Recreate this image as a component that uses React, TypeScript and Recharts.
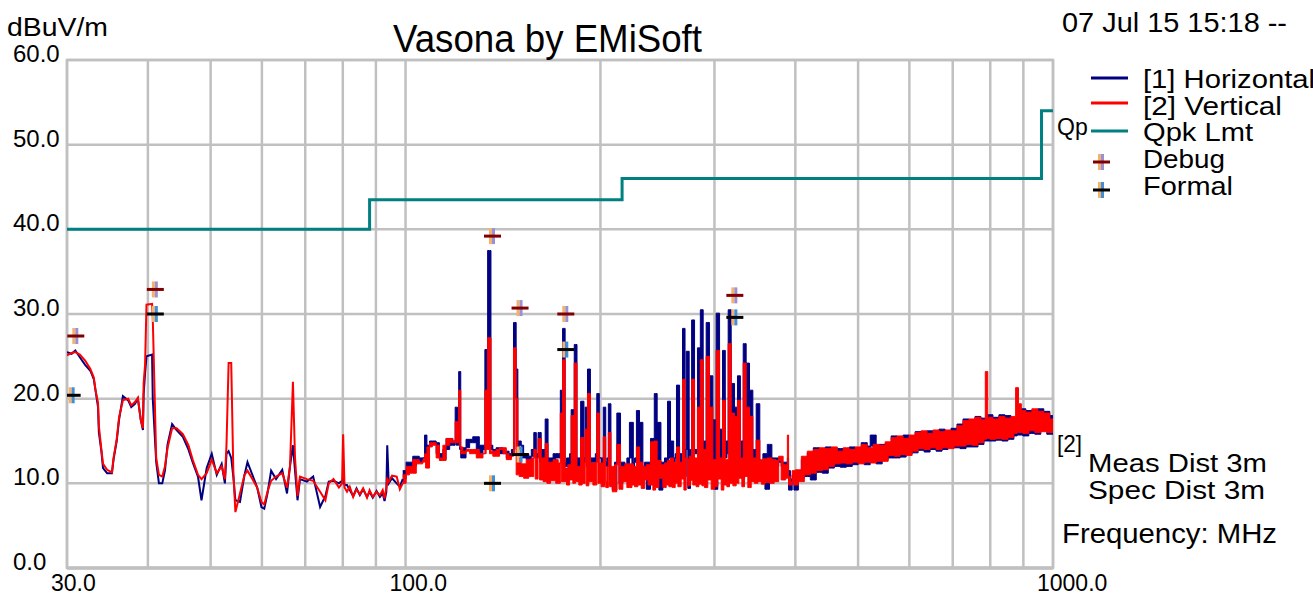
import React from 'react';
import { ComposedChart, Line, Area, Scatter, XAxis, YAxis, CartesianGrid, ReferenceArea } from 'recharts';

// 30 - 100 MHz
const lowFreq = [
  30.0, 30.5, 30.9, 31.4, 32.0, 32.6, 33.0, 33.2, 33.5, 33.6,
  33.9, 34.1, 34.6, 35.2, 35.4, 35.8, 36.1, 36.6, 37.3, 37.7,
  38.2, 38.6, 39.0, 39.3, 39.4, 39.6, 39.8, 40.6, 40.7, 41.2,
  41.6, 42.1, 42.5, 42.9, 43.6, 44.3, 45.3, 46.2, 46.9, 47.8,
  48.4, 49.3, 50.2, 51.1, 52.0, 52.6, 52.9, 53.3, 53.8, 54.2,
  54.6, 55.5, 56.4, 57.0, 58.0, 59.0, 59.9, 60.5, 61.2, 62.0,
  63.1, 64.5, 65.6, 66.3, 67.0, 67.5, 68.1, 68.7, 70.4, 72.0,
  73.8, 75.2, 76.1, 77.4, 78.9, 79.8, 80.1, 80.5, 81.2, 82.0,
  83.0, 84.0, 85.0, 86.0, 87.2, 88.0, 89.0, 90.2, 91.3, 92.2,
  92.8, 93.4, 93.7, 94.2, 95.3, 96.9, 98.0,
];
const lowHoriz = [
  25.5, 25.3, 25.7, 24.9, 24.0, 23.3, 22.3, 21.0, 19.0, 16.0,
  13.8, 11.8, 11.2, 11.2, 12.8, 15.0, 17.5, 20.3, 19.8, 19.0,
  19.4, 20.0, 17.5, 16.3, 20.5, 23.0, 25.0, 25.2, 20.0, 12.5,
  10.0, 10.0, 11.5, 14.6, 17.0, 16.3, 15.5, 14.0, 12.5, 10.8,
  8.0, 11.8, 13.5, 11.0, 12.3, 10.0, 13.5, 13.8, 13.0, 10.8,
  8.0, 7.8, 11.0, 12.5, 11.0, 9.5, 7.2, 7.0, 8.8, 11.5,
  10.5, 11.6, 8.8, 12.0, 14.5, 11.5, 8.0, 10.5, 10.2, 10.8,
  7.2, 8.5, 10.2, 10.3, 10.0, 10.3, 10.5, 9.8, 9.8, 9.2,
  8.5, 9.4, 8.6, 9.3, 8.4, 9.0, 8.3, 9.1, 8.4, 8.8,
  7.9, 9.0, 14.5, 10.0, 10.6, 10.0, 9.6,
];
const lowVert = [
  25.1, 25.4, 25.5, 25.2, 24.5, 23.5, 22.5, 21.0, 19.5, 16.8,
  14.0, 12.3, 11.6, 11.3, 13.0, 15.2, 17.8, 19.8, 20.0, 19.2,
  19.6, 20.1, 17.5, 16.5, 21.8, 24.0, 31.1, 31.2, 29.5, 13.0,
  11.0, 10.8, 12.0, 14.2, 16.5, 16.5, 15.8, 14.5, 12.8, 11.0,
  10.5, 11.2, 12.8, 11.2, 12.0, 10.5, 14.5, 24.2, 24.2, 11.5,
  6.6, 8.8, 11.0, 11.5, 10.5, 9.5, 7.8, 7.5, 9.0, 10.3,
  10.8, 11.2, 9.5, 12.0, 22.0, 13.0, 8.5, 10.8, 10.5, 10.3,
  9.0, 8.0, 10.0, 10.5, 9.5, 10.0, 15.8, 9.5, 9.0, 9.6,
  8.4, 9.3, 8.7, 9.4, 8.3, 9.2, 8.4, 9.0, 8.6, 9.2,
  8.2, 9.5, 10.5, 10.2, 10.9, 10.8, 9.3,
];

// 100 - 400 MHz
const midFreq = [
  99.0, 100.2, 101.4, 102.6, 103.9, 105.0, 106.3, 107.0, 107.4, 107.9,
  108.9, 110.0, 111.5, 112.8, 114.2, 115.5, 117.0, 118.3, 119.3, 119.8,
  120.3, 120.8, 121.2, 121.7, 122.6, 124.0, 125.6, 127.0, 128.6, 130.0,
  131.7, 132.6, 133.2, 133.9, 134.8, 135.5, 136.4, 138.0, 139.7, 141.4,
  143.1, 144.5, 145.7, 146.8, 147.4, 148.2, 149.1, 149.8, 150.9, 152.2,
  153.6, 155.0, 156.4, 157.8, 158.6, 159.2, 160.2, 161.1, 162.0, 163.1,
  164.3, 165.3, 166.0, 167.5, 169.0, 170.6, 172.1, 173.4, 174.0, 174.8,
  175.6, 176.4, 177.3, 178.1, 179.2, 180.2, 181.3, 182.2, 183.0, 184.0,
  185.2, 186.4, 187.4, 188.6, 189.4, 190.1, 191.0, 191.9, 193.0, 194.7,
  196.4, 197.4, 198.2, 199.2, 200.5, 202.0, 202.9, 203.8, 204.6, 205.7,
  206.6, 207.6, 208.6, 210.3, 212.0, 213.6, 214.8, 216.6, 218.2, 219.7,
  221.7, 223.7, 224.8, 225.8, 227.3, 228.5, 229.8, 231.2, 232.6, 234.0,
  235.4, 236.8, 239.0, 241.0, 242.2, 243.3, 244.7, 246.2, 248.0, 249.7,
  251.2, 252.7, 253.9, 255.1, 256.6, 258.2, 259.5, 260.9, 262.1, 263.4,
  265.0, 266.5, 267.8, 269.1, 270.2, 271.3, 272.9, 274.2, 275.5, 276.6,
  277.8, 279.5, 281.1, 282.4, 283.8, 285.3, 286.9, 288.2, 289.6, 291.3,
  293.0, 294.7, 296.5, 298.3, 300.1, 301.8, 303.6, 305.5, 307.3, 308.7,
  310.2, 311.8, 313.5, 315.0, 316.5, 318.4, 320.3, 322.2, 324.1, 325.6,
  327.2, 329.0, 330.7, 332.3, 333.9, 335.8, 337.8, 339.8, 341.9, 343.9,
  345.9, 348.0, 350.1, 352.5, 354.5, 356.4, 359.0, 362.0, 364.9, 368.0,
  371.0, 373.6, 377.0, 380.3, 383.0, 386.5, 388.8, 389.5, 390.5, 393.0,
  395.5, 398.0,
];
const midHoriz = [
  10.5, 11.5, 12.5, 12.0, 13.2, 12.5, 13.0, 13.0, 15.7, 12.5,
  14.5, 15.0, 14.8, 13.5, 12.8, 14.0, 15.3, 14.5, 15.0, 19.0,
  14.5, 15.5, 23.2, 14.0, 13.0, 14.2, 15.2, 14.8, 15.5, 13.5,
  14.5, 14.0, 25.8, 15.5, 37.5, 14.5, 14.0, 13.5, 14.2, 13.5,
  13.8, 13.0, 13.5, 14.0, 29.0, 23.5, 14.0, 15.0, 14.5, 13.0,
  13.5, 12.8, 13.2, 14.0, 16.0, 13.0, 13.5, 16.0, 12.5, 14.0,
  13.0, 17.6, 12.5, 13.0, 12.0, 13.5, 13.0, 13.5, 21.0, 14.0,
  28.3, 12.5, 12.0, 13.0, 12.0, 13.5, 18.7, 13.5, 26.4, 12.0,
  13.0, 12.0, 19.7, 12.5, 13.0, 19.0, 12.0, 23.5, 12.5, 13.0,
  12.5, 13.5, 20.6, 13.0, 13.0, 12.0, 19.0, 12.5, 12.0, 13.0,
  19.4, 10.5, 11.5, 9.2, 12.5, 18.3, 10.0, 12.5, 11.5, 10.8,
  13.0, 17.2, 11.5, 12.5, 13.0, 18.6, 12.5, 17.2, 12.0, 11.5,
  12.5, 9.3, 12.5, 15.3, 10.5, 20.6, 11.0, 17.2, 9.2, 12.5,
  12.0, 13.0, 12.5, 19.7, 13.0, 15.0, 12.5, 13.0, 13.5, 21.6,
  10.5, 13.5, 11.0, 28.3, 10.8, 14.0, 25.6, 9.4, 14.0, 11.0,
  29.3, 13.5, 14.0, 13.5, 26.0, 13.5, 30.5, 14.0, 15.0, 13.5,
  29.0, 10.8, 22.7, 11.0, 17.5, 9.3, 30.1, 11.0, 16.4, 10.5,
  25.7, 13.0, 15.0, 13.5, 30.5, 14.0, 21.8, 13.0, 19.0, 13.5,
  22.7, 11.0, 15.0, 10.5, 26.5, 11.2, 24.2, 10.8, 21.0, 11.0,
  14.0, 10.8, 19.4, 11.0, 12.5, 10.6, 13.5, 9.3, 14.6, 10.8,
  13.0, 12.0, 13.0, 12.5, 12.0, 12.5, 12.0, 13.0, 11.5, 9.2,
  10.5, 11.0,
];
const midVert = [
  10.0, 11.0, 12.0, 11.2, 12.8, 12.3, 12.5, 12.8, 13.5, 11.8,
  14.3, 14.8, 14.5, 13.0, 12.7, 14.5, 15.3, 14.8, 15.0, 17.3,
  14.8, 15.5, 21.0, 14.3, 13.5, 13.8, 14.0, 13.5, 14.0, 13.0,
  13.5, 13.5, 21.0, 14.0, 27.2, 13.5, 13.8, 13.2, 14.0, 14.2,
  13.5, 12.8, 13.2, 13.5, 26.0, 20.0, 11.0, 13.0, 10.8, 12.3,
  10.6, 12.8, 10.8, 13.0, 14.0, 10.5, 13.0, 15.3, 10.4, 13.0,
  10.2, 14.7, 10.0, 12.5, 10.3, 12.8, 10.0, 12.4, 18.3, 10.2,
  24.6, 10.2, 11.8, 9.8, 12.2, 10.4, 18.0, 10.0, 24.2, 10.2,
  12.0, 9.8, 15.4, 10.0, 12.5, 16.4, 9.7, 20.6, 10.2, 12.4,
  9.8, 12.5, 18.3, 10.0, 12.4, 9.6, 15.5, 10.2, 9.5, 12.0,
  16.0, 9.6, 12.0, 9.0, 12.2, 14.6, 9.3, 12.0, 10.2, 12.3,
  9.5, 12.3, 9.8, 12.0, 9.6, 14.3, 9.8, 12.5, 9.4, 12.0,
  10.4, 12.2, 9.8, 14.9, 9.2, 15.0, 9.5, 12.7, 10.6, 12.2,
  9.5, 12.4, 9.8, 12.7, 9.6, 13.0, 9.5, 12.5, 10.0, 14.3,
  9.6, 12.5, 10.5, 22.3, 9.2, 13.0, 12.8, 9.7, 13.2, 10.3,
  22.3, 9.8, 13.0, 9.6, 19.0, 9.9, 24.6, 9.7, 14.0, 9.5,
  25.0, 10.4, 19.0, 9.3, 12.8, 9.6, 25.7, 10.5, 13.0, 9.2,
  19.8, 9.8, 12.8, 9.6, 26.5, 10.0, 18.3, 9.7, 17.9, 10.0,
  19.8, 10.6, 13.0, 9.6, 24.2, 10.8, 19.0, 9.5, 17.9, 10.2,
  13.0, 10.0, 15.1, 10.2, 12.8, 9.9, 12.9, 10.1, 13.0, 10.0,
  12.8, 10.2, 12.7, 13.2, 10.4, 12.2, 10.6, 15.7, 10.8, 9.8,
  10.2, 11.5,
];

// 400 - 1000 MHz
const highFreq = [
  400.0, 404.3, 408.6, 413.0, 417.4, 421.9, 426.4, 430.9, 435.5, 440.2,
  444.9, 449.7, 454.5, 459.4, 464.3, 469.3, 474.3, 479.4, 484.5, 489.7,
  494.9, 500.2, 505.6, 511.0, 516.5, 522.0, 527.6, 533.2, 538.9, 544.7,
  550.5, 556.4, 562.4, 568.4, 574.5, 580.6, 586.8, 593.1, 599.5, 605.9,
  612.4, 618.9, 625.6, 632.3, 639.0, 645.9, 652.8, 659.8, 666.8, 674.0,
  681.2, 688.5, 695.8, 703.3, 710.8, 718.4, 726.1, 733.9, 741.7, 749.7,
  757.7, 765.8, 774.0, 782.3, 786.0, 789.5, 793.0, 799.1, 807.6, 816.3,
  825.0, 833.9, 842.8, 851.8, 860.9, 870.1, 875.5, 880.0, 884.5, 888.9,
  893.5, 898.4, 908.0, 917.7, 927.5, 937.4, 947.5, 957.6, 967.8, 978.2,
  988.7, 999.3,
];
const highHoriz = [
  9.2, 11.4, 10.6, 12.8, 10.8, 13.6, 10.4, 14.2, 11.3, 14.0,
  11.2, 14.3, 11.8, 14.0, 12.0, 14.1, 11.9, 14.0, 12.0, 14.3,
  12.2, 14.1, 12.4, 14.8, 12.2, 14.4, 15.7, 14.3, 12.3, 14.6,
  12.8, 14.7, 13.0, 15.6, 13.0, 15.4, 13.1, 15.7, 13.5, 15.5,
  13.6, 16.1, 13.9, 16.0, 13.7, 16.2, 14.0, 16.0, 13.8, 16.4,
  14.0, 16.1, 14.3, 16.5, 14.2, 17.0, 14.1, 17.6, 14.3, 17.4,
  14.3, 17.9, 14.6, 17.7, 15.0, 16.5, 15.0, 18.1, 15.0, 17.8,
  15.1, 18.1, 15.0, 18.0, 15.2, 17.6, 15.6, 16.8, 15.7, 18.3,
  15.7, 18.8, 15.6, 18.6, 15.9, 18.6, 15.8, 18.8, 16.3, 18.5,
  15.8, 18.0,
];
const highVert = [
  9.8, 11.6, 10.2, 13.2, 11.0, 13.8, 11.2, 14.0, 11.5, 14.2,
  11.6, 14.1, 12.0, 14.3, 12.3, 13.8, 12.4, 14.2, 12.3, 14.0,
  12.5, 14.3, 12.3, 14.6, 12.5, 14.2, 12.4, 14.6, 12.6, 14.5,
  12.6, 14.9, 13.3, 15.4, 13.2, 15.6, 13.4, 15.3, 13.3, 15.7,
  13.8, 16.0, 14.1, 16.2, 14.0, 15.9, 14.2, 16.3, 14.0, 16.1,
  14.2, 16.3, 14.1, 16.2, 14.4, 16.8, 14.4, 17.4, 14.6, 17.6,
  14.5, 17.8, 14.8, 17.5, 15.2, 23.2, 15.3, 17.8, 15.2, 17.6,
  15.3, 17.9, 15.2, 17.7, 15.4, 17.9, 15.9, 21.3, 16.0, 19.4,
  16.0, 18.6, 15.9, 18.4, 16.2, 18.8, 16.0, 18.5, 16.1, 18.3,
  16.0, 17.6,
];

// FCC class B quasi-peak limit, 3 m
const limitFreq = [30, 88, 88, 216, 216, 960, 960, 1000];
const limitLevel = [40, 40, 43.5, 43.5, 46, 46, 54, 54];

// measured markers
const debugFreq = [30.9, 41.0, 136.0, 150.0, 176.5, 322.0];
const debugLevel = [27.4, 32.9, 39.2, 30.7, 30.0, 32.2];
const formalFreq = [30.5, 41.0, 136.0, 150.0, 176.5, 322.0];
const formalLevel = [20.4, 30.0, 10.0, 13.4, 25.8, 29.6];

const gridFreq = [30, 40, 50, 60, 70, 80, 90, 100, 200, 300, 400, 500, 600, 700, 800, 900, 1000];
const freqLabels: Record<number, string> = { 30: '30.0', 100: '100.0', 1000: '1000.0' };
const levelTicks = [0, 10, 20, 30, 40, 50, 60];

// below 100 MHz the sweep is drawn as a plain trace
const traceData = [...lowFreq, midFreq[0]].map((f, i) => ({
  f,
  h: i < lowHoriz.length ? lowHoriz[i] : midHoriz[0],
  v: i < lowVert.length ? lowVert[i] : midVert[0],
}));

// above 100 MHz every screen column shows the min..max of the sweep
const bandFreq = [...midFreq, ...highFreq];
const bandHoriz = [...midHoriz, ...highHoriz];
const bandVert = [...midVert, ...highVert];
const bandData = bandFreq.map((f, i) => {
  const j = Math.min(i + 1, bandFreq.length - 1);
  return {
    f,
    h: [Math.min(bandHoriz[i], bandHoriz[j]), Math.max(bandHoriz[i], bandHoriz[j])],
    v: [Math.min(bandVert[i], bandVert[j]), Math.max(bandVert[i], bandVert[j])],
  };
});

const limitData = limitFreq.map((f, i) => ({ f, level: limitLevel[i] }));
const debugData = debugFreq.map((f, i) => ({ f, level: debugLevel[i] }));
const formalData = formalFreq.map((f, i) => ({ f, level: formalLevel[i] }));

const FONT = '"Liberation Sans", Arial, sans-serif';

const FreqTick = (props: any) => {
  const { x, payload } = props;
  const label = freqLabels[payload.value];
  if (!label) return null;
  return (
    <text x={x - 16} y={591} fontSize={23} fontFamily={FONT} fill="#000">
      {label}
    </text>
  );
};

const LevelTick = (props: any) => {
  const { y, payload } = props;
  return (
    <text x={13} y={y + 2} fontSize={24} fontFamily={FONT} fill="#000">
      {payload.value.toFixed(1)}
    </text>
  );
};

const Plus = ({ cx, cy, bar, left, right }: any) => (
  <g>
    <rect x={cx - 3} y={cy - 8} width={3} height={16} fill={left} />
    <rect x={cx} y={cy - 8} width={3} height={16} fill={right} />
    <rect x={cx - 8} y={cy - 1.5} width={17} height={3} fill={bar} />
  </g>
);

const debugShape = (p: any) => <Plus cx={p.cx} cy={p.cy} bar="#800000" left="#f4b26a" right="#9b8fd6" />;
const formalShape = (p: any) => <Plus cx={p.cx} cy={p.cy} bar="#000000" left="#f4b26a" right="#3d8fd8" />;

export default function App() {
  return (
    <div style={{ position: 'absolute', left: 0, top: 0, width: 1313, height: 596, background: '#fff', overflow: 'hidden' }}>
      <ComposedChart width={1313} height={596} margin={{ top: 60, right: 260, bottom: 0, left: 0 }}>
        <CartesianGrid stroke="#c0c0c0" strokeWidth={2.5} />
        <XAxis
          dataKey="f"
          type="number"
          scale="log"
          domain={[30, 1000]}
          allowDataOverflow
          ticks={gridFreq}
          interval={0}
          height={28}
          tickLine={false}
          axisLine={{ stroke: '#c0c0c0', strokeWidth: 3.5 }}
          tick={<FreqTick />}
        />
        <YAxis
          type="number"
          domain={[0, 60]}
          allowDataOverflow
          ticks={levelTicks}
          interval={0}
          width={67}
          tickLine={false}
          axisLine={false}
          tick={<LevelTick />}
        />
        <ReferenceArea x1={30} x2={1000} y1={0} y2={60} fill="none" stroke="#c0c0c0" strokeWidth={2.5} />
        <Line data={traceData} dataKey="h" type="linear" stroke="#000080" strokeWidth={2} dot={false} activeDot={false} isAnimationActive={false} />
        <Area data={bandData} dataKey="h" type="stepAfter" stroke="#000080" strokeWidth={1} fill="#000080" fillOpacity={1} dot={false} activeDot={false} isAnimationActive={false} />
        <Line data={traceData} dataKey="v" type="linear" stroke="#ff0000" strokeWidth={2} dot={false} activeDot={false} isAnimationActive={false} />
        <Area data={bandData} dataKey="v" type="stepAfter" stroke="#ff0000" strokeWidth={1} fill="#ff0000" fillOpacity={1} dot={false} activeDot={false} isAnimationActive={false} />
        <Line data={limitData} dataKey="level" type="linear" stroke="#008080" strokeWidth={3} dot={false} activeDot={false} isAnimationActive={false} />
        <Scatter data={debugData} dataKey="level" shape={debugShape} isAnimationActive={false} />
        <Scatter data={formalData} dataKey="level" shape={formalShape} isAnimationActive={false} />
      </ComposedChart>
      <svg width={1313} height={596} style={{ position: 'absolute', left: 0, top: 0, pointerEvents: 'none' }} fontFamily={FONT}>
        <text x={7} y={36} fontSize={25} textLength={101} lengthAdjust="spacingAndGlyphs">dBuV/m</text>
        <text x={393} y={52} fontSize={38} textLength={309} lengthAdjust="spacingAndGlyphs">Vasona by EMiSoft</text>
        <text x={1062} y={32} fontSize={28} textLength={225} lengthAdjust="spacingAndGlyphs">07 Jul 15 15:18 --</text>

        <line x1={1091} y1={78} x2={1128} y2={78} stroke="#000080" strokeWidth={3} />
        <line x1={1091} y1={103} x2={1128} y2={103} stroke="#ff0000" strokeWidth={3} />
        <line x1={1091} y1={131} x2={1128} y2={131} stroke="#008080" strokeWidth={3} />
        <Plus cx={1101} cy={162} bar="#800000" left="#f4b26a" right="#9b8fd6" />
        <Plus cx={1101} cy={190} bar="#000000" left="#f4b26a" right="#3d8fd8" />
        <text x={1143} y={88} fontSize={25} textLength={172} lengthAdjust="spacingAndGlyphs">[1] Horizontal</text>
        <text x={1143} y={115} fontSize={25} textLength={139} lengthAdjust="spacingAndGlyphs">[2] Vertical</text>
        <text x={1143} y={141} fontSize={25} textLength={110} lengthAdjust="spacingAndGlyphs">Qpk Lmt</text>
        <text x={1143} y={168} fontSize={25} textLength={82} lengthAdjust="spacingAndGlyphs">Debug</text>
        <text x={1143} y={195} fontSize={25} textLength={90} lengthAdjust="spacingAndGlyphs">Formal</text>

        <text x={1057} y={135} fontSize={23}>Qp</text>
        <text x={1057} y={452} fontSize={24} textLength={25} lengthAdjust="spacingAndGlyphs">[2]</text>
        <text x={1088} y={472} fontSize={25} textLength={179} lengthAdjust="spacingAndGlyphs">Meas Dist 3m</text>
        <text x={1088} y={499} fontSize={25} textLength={177} lengthAdjust="spacingAndGlyphs">Spec Dist 3m</text>
        <text x={1062} y={543} fontSize={27} textLength={215} lengthAdjust="spacingAndGlyphs">Frequency: MHz</text>
      </svg>
    </div>
  );
}
